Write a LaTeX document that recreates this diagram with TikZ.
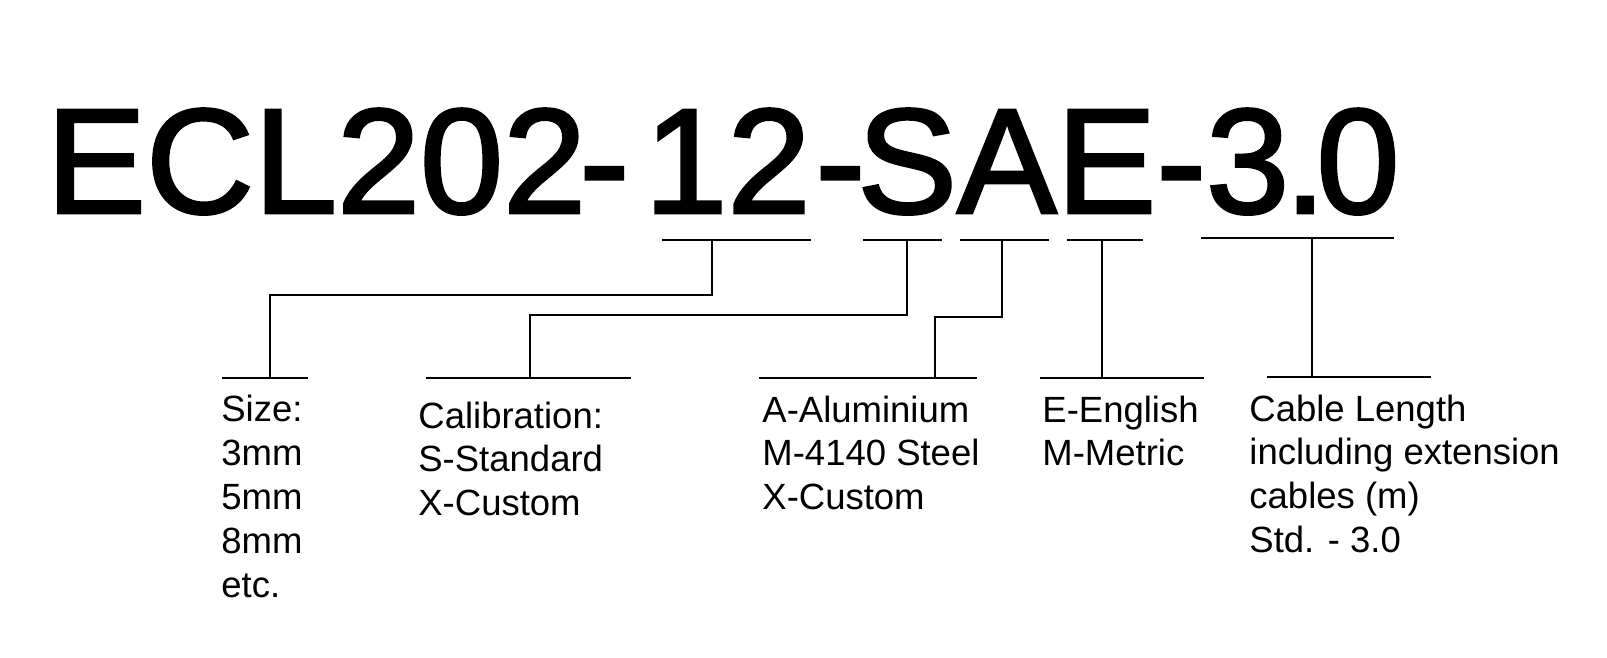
\documentclass[tikz,border=0pt]{standalone}
\usepackage{fontspec}
\setmainfont{Liberation Sans}
\newfontfamily\titlefont[FakeBold=2]{Liberation Sans}
\begin{document}
\begin{tikzpicture}[x=0.5pt,y=-0.5pt,
  title/.style={anchor=base west,inner sep=0pt,font=\titlefont\fontsize{74.7pt}{80pt}\selectfont},
  lbl/.style={anchor=base west,inner sep=0pt,align=left,font=\fontsize{18.25pt}{21.9pt}\selectfont},
  brk/.style={line width=1.35pt,line cap=rect}]
\useasboundingbox[fill=white] (0,0) rectangle (1607,658);
% title pieces
\node[title] (t1) at (46,213) {ECL202};
\node[title] (t2) at (579,213) {-};
\node[title] (t3) at (644,213) {12};
\node[title] (t4) at (815,213) {-};
\node[title] (t5) at (857,213) {SAE-3};
\node[title] (t6) at (1284,213) {.};
\node[title] (t7) at (1316,213) {0};
% labels (base anchor = baseline of the last line)
\node[lbl] (size) at (221,597) {Size:\\3mm\\5mm\\8mm\\etc.};
\node[lbl] (cal) at (418,515.6) {Calibration:\\S-Standard\\X-Custom};
\node[lbl] (mat) at (762,509.6) {A-Aluminium\\M-4140 Steel\\X-Custom};
\node[lbl] (unit) at (1042,465.8) {E-English\\M-Metric};
\node[lbl] (len) at (1249,552.4) {Cable Length\\including extension\\cables (m)\\Std. - 3.0};
% bracket coordinates
\coordinate (a1) at (663,240); \coordinate (a2) at (810,240); \coordinate (a3) at (712,240);
\coordinate (a4) at (712,295); \coordinate (a5) at (270,295); \coordinate (a6) at (270,378);
\coordinate (a7) at (223,378); \coordinate (a8) at (307,378);
\coordinate (b1) at (864,240); \coordinate (b2) at (941,240); \coordinate (b3) at (907,240);
\coordinate (b4) at (907,315); \coordinate (b5) at (530,315); \coordinate (b6) at (530,378);
\coordinate (b7) at (427,378); \coordinate (b8) at (630,378);
\coordinate (c1) at (961,240); \coordinate (c2) at (1048,240); \coordinate (c3) at (1002,240);
\coordinate (c4) at (1002,317); \coordinate (c5) at (935,317); \coordinate (c6) at (935,378);
\coordinate (c7) at (760,378); \coordinate (c8) at (976,378);
\coordinate (d1) at (1068,240); \coordinate (d2) at (1142,240); \coordinate (d3) at (1102,240);
\coordinate (d6) at (1102,378); \coordinate (d7) at (1041,378); \coordinate (d8) at (1203,378);
\coordinate (e1) at (1202,238); \coordinate (e2) at (1393,238); \coordinate (e3) at (1312,238);
\coordinate (e6) at (1312,377); \coordinate (e7) at (1268,377); \coordinate (e8) at (1430,377);
\draw[brk] (a1) -- (a2); \draw[brk] (a3) -- (a4) -- (a5) -- (a6); \draw[brk] (a7) -- (a8);
\draw[brk] (b1) -- (b2); \draw[brk] (b3) -- (b4) -- (b5) -- (b6); \draw[brk] (b7) -- (b8);
\draw[brk] (c1) -- (c2); \draw[brk] (c3) -- (c4) -- (c5) -- (c6); \draw[brk] (c7) -- (c8);
\draw[brk] (d1) -- (d2); \draw[brk] (d3) -- (d6); \draw[brk] (d7) -- (d8);
\draw[brk] (e1) -- (e2); \draw[brk] (e3) -- (e6); \draw[brk] (e7) -- (e8);
\end{tikzpicture}
\end{document}
